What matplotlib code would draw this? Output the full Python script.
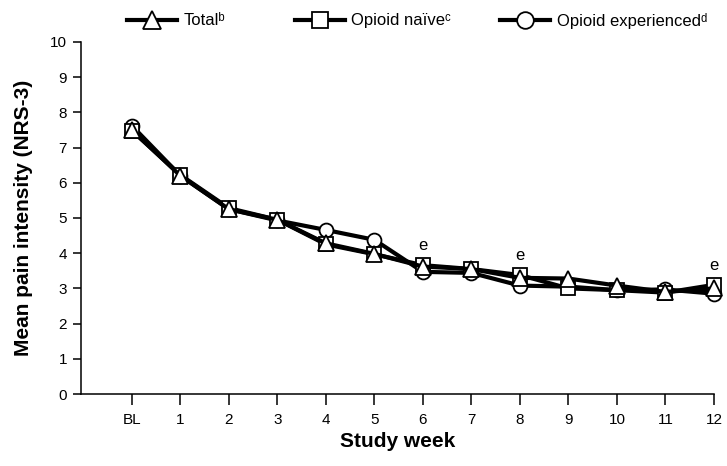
import matplotlib
matplotlib.use("Agg")
import matplotlib.pyplot as plt
from matplotlib.lines import Line2D

plt.rcParams['font.family'] = ['Liberation Sans', 'DejaVu Sans']

week_labels = ['BL', '1', '2', '3', '4', '5', '6', '7', '8', '9', '10', '11', '12']
total = [7.5, 6.2, 5.25, 4.95, 4.28, 3.98, 3.62, 3.55, 3.3, 3.28, 3.08, 2.9, 3.0]
naive = [7.48, 6.22, 5.28, 4.95, 4.25, 3.97, 3.66, 3.55, 3.38, 3.0, 2.95, 2.88, 3.1]
experienced = [7.62, 6.2, 5.25, 4.93, 4.66, 4.38, 3.47, 3.44, 3.08, 3.05, 2.95, 2.97, 2.85]
e_weeks = [6, 8, 12]   # weeks flagged with footnote e

x = list(range(len(week_labels)))

fig = plt.figure(figsize=(7.27, 4.66), dpi=100)
ax = fig.add_axes([0.1114, 0.1545, 0.8706, 0.7554])

ax.plot(x, experienced, color='black', lw=3, marker='o', ms=10,
        mfc='white', mec='black', mew=1.3, clip_on=False)
ax.plot(x, naive, color='black', lw=3, marker='s', ms=10,
        mfc='white', mec='black', mew=1.3, clip_on=False)
ax.plot(x, total, color='black', lw=3, marker='^', ms=11.5,
        mfc='white', mec='black', mew=1.3, clip_on=False)

for w in e_weeks:
    ax.annotate('e', (w, naive[w]), xytext=(0, 14), textcoords='offset points',
                ha='center', va='center', fontsize=12)

ax.set_xlim(-1.05, 12)
ax.set_ylim(0, 10)
ax.set_xticks(x)
ax.set_xticklabels(week_labels)
ax.set_yticks(range(0, 11))
ax.spines['top'].set_visible(False)
ax.spines['right'].set_visible(False)
ax.spines['left'].set_linewidth(1.1)
ax.spines['bottom'].set_linewidth(1.1)
ax.tick_params(axis='x', direction='out', length=8, width=1.1, labelsize=11, pad=6)
ax.tick_params(axis='y', direction='out', length=6, width=1.1, labelsize=11, pad=4)

ax.set_xlabel('Study week', fontsize=15, fontweight='bold', labelpad=3)
ax.set_ylabel('Mean pain intensity (NRS-3)', fontsize=15, fontweight='bold', labelpad=12)

# legend, one entry at a time so the gaps can follow the original
entries = [
    ('^', 11.5, 'Total\u1d47', 0.242),
    ('s', 10, 'Opioid na\u00efve\u1d9c', 0.513),
    ('o', 10, 'Opioid experienced\u1d48', 0.83),
]
for mk, ms, lab, xpos in entries:
    h = Line2D([], [], color='black', lw=3, marker=mk, ms=ms + 2,
               mfc='white', mec='black', mew=1.3)
    fig.legend([h], [lab], loc='center', bbox_to_anchor=(xpos, 0.955),
               frameon=False, fontsize=12, handlelength=3.0, handletextpad=0.4)

fig.savefig('out.png', dpi=100)
